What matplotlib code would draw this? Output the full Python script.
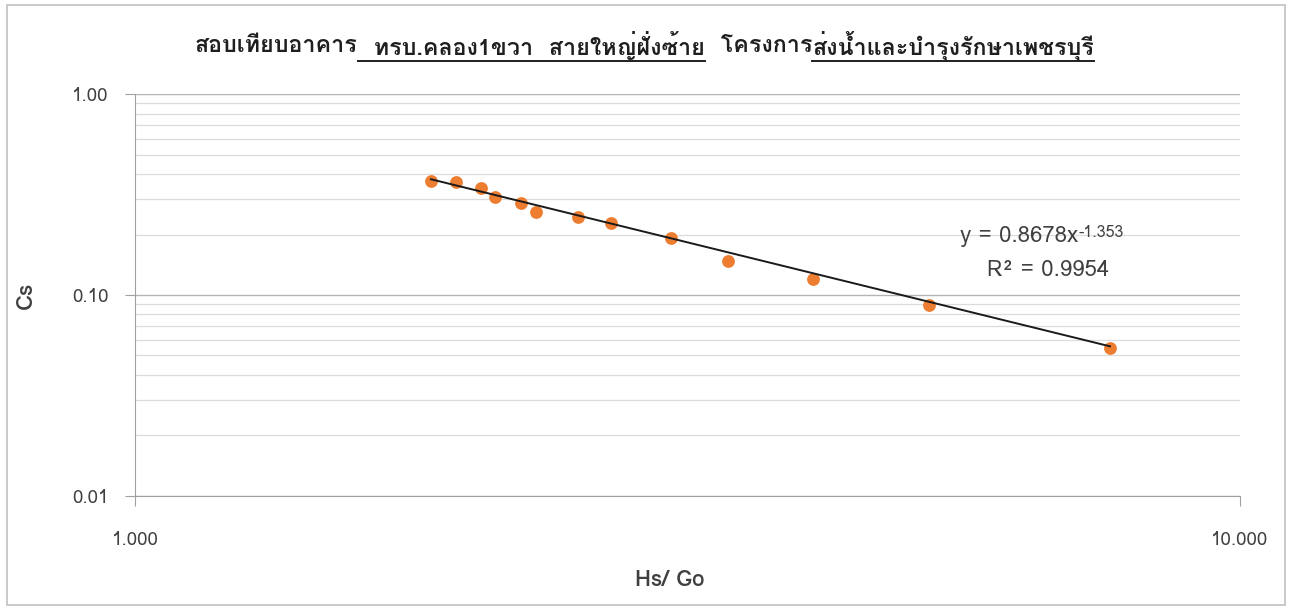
import matplotlib
matplotlib.use("Agg")
import matplotlib.pyplot as plt
import numpy as np
from matplotlib.patches import Rectangle
from matplotlib.ticker import FixedLocator, FormatStrFormatter, NullFormatter, NullLocator

plt.rcParams['font.family'] = ['Loma', 'DejaVu Sans']

# measured points
hs_go = [1.853, 1.952, 2.057, 2.118, 2.235, 2.306, 2.517, 2.697, 3.056, 3.441, 4.107, 5.231, 7.627]
cs = [0.369, 0.365, 0.340, 0.307, 0.287, 0.259, 0.244, 0.228, 0.192, 0.148, 0.120, 0.0892, 0.0545]

# power trendline y = a * x^b
coef_a = 0.8678
coef_b = -1.353
r2 = 0.9954

title_parts = [
    ("สอบเทียบอาคาร", False),
    ("  ทรบ.คลอง1ขวา  สายใหญ่ฝั่งซ้าย", True),
    ("  โครงการ", False),
    ("ส่งน้ำและบำรุงรักษาเพชรบุรี", True),
]

text_color = '#404040'

fig = plt.figure(figsize=(12.89, 6.09), dpi=100)
ax = fig.add_axes([0.1047, 0.1856, 0.8573, 0.66])

ax.scatter(hs_go, cs, s=85, color='#ED7D31', zorder=3, linewidths=0)

xs = np.linspace(min(hs_go), max(hs_go), 200)
ax.plot(xs, coef_a * xs ** coef_b, color='#1a1a1a', lw=1.4, zorder=4)

ax.set_xscale('log')
ax.set_yscale('log')
ax.set_xlim(1, 10)
ax.set_ylim(0.01, 1)

ax.xaxis.set_major_locator(FixedLocator([1, 10]))
ax.xaxis.set_minor_locator(NullLocator())
ax.xaxis.set_major_formatter(FormatStrFormatter('%.3f'))
ax.yaxis.set_major_locator(FixedLocator([0.01, 0.1, 1]))
ax.yaxis.set_minor_locator(FixedLocator([k * 10.0 ** e for e in (-2, -1) for k in range(2, 10)]))
ax.yaxis.set_major_formatter(FormatStrFormatter('%.2f'))
ax.yaxis.set_minor_formatter(NullFormatter())

ax.grid(True, which='major', axis='y', color='#b4b4b4', lw=1.0)
ax.grid(True, which='minor', axis='y', color='#dcdcdc', lw=0.9)
ax.set_axisbelow(True)

for side in ('top', 'right'):
    ax.spines[side].set_visible(False)
for side in ('left', 'bottom'):
    ax.spines[side].set_color('#a0a0a0')
ax.tick_params(axis='both', which='major', direction='out', length=7, color='#a0a0a0',
               labelcolor=text_color, labelsize=13.5)
ax.tick_params(axis='y', which='minor', length=0)
ax.tick_params(axis='x', which='major', pad=18)
ax.tick_params(axis='y', which='major', pad=12)

ax.set_xlabel('Hs/ Go', fontsize=16, fontweight='bold', color=text_color)
ax.xaxis.set_label_coords(0.484, -0.185)
ax.set_ylabel('Cs', fontsize=16, fontweight='bold', color=text_color, labelpad=26)

# trendline equation with a plain superscript exponent
eq = ax.text(0.747, 0.645, f'y = {coef_a}x', transform=ax.transAxes,
             ha='left', va='center', fontsize=16, color=text_color)
ax.annotate(f'{coef_b}', xy=(1, 1.08), xycoords=eq, ha='left', va='top',
            fontsize=11.5, color=text_color)
ax.text(0.826, 0.562, f'R² = {r2}', transform=ax.transAxes,
        ha='center', va='center', fontsize=16, color=text_color)

# title built from pieces so parts can be underlined
fig.canvas.draw()
renderer = fig.canvas.get_renderer()
title_y = 1 - 46 / 609
pieces = [fig.text(0, title_y, txt, fontsize=16.8, fontweight='bold', color='#1f1f1f',
                   va='center', ha='left') for txt, _ in title_parts]
widths = [p.get_window_extent(renderer).width / fig.bbox.width for p in pieces]
x = 0.5 - sum(widths) / 2
line_y = 1 - 61 / 609
for p, w, (txt, under) in zip(pieces, widths, title_parts):
    p.set_x(x)
    if under:
        fig.add_artist(plt.Line2D([x, x + w], [line_y, line_y],
                                  transform=fig.transFigure, color='#1f1f1f', lw=1.4))
    x += w

# chart area border
fig.add_artist(Rectangle((7 / 1289, 1 - 605 / 609), 1278 / 1289, 600 / 609,
                         transform=fig.transFigure, fill=False, edgecolor='#c0c0c0', lw=1.2))

fig.savefig('out.png', dpi=100)
